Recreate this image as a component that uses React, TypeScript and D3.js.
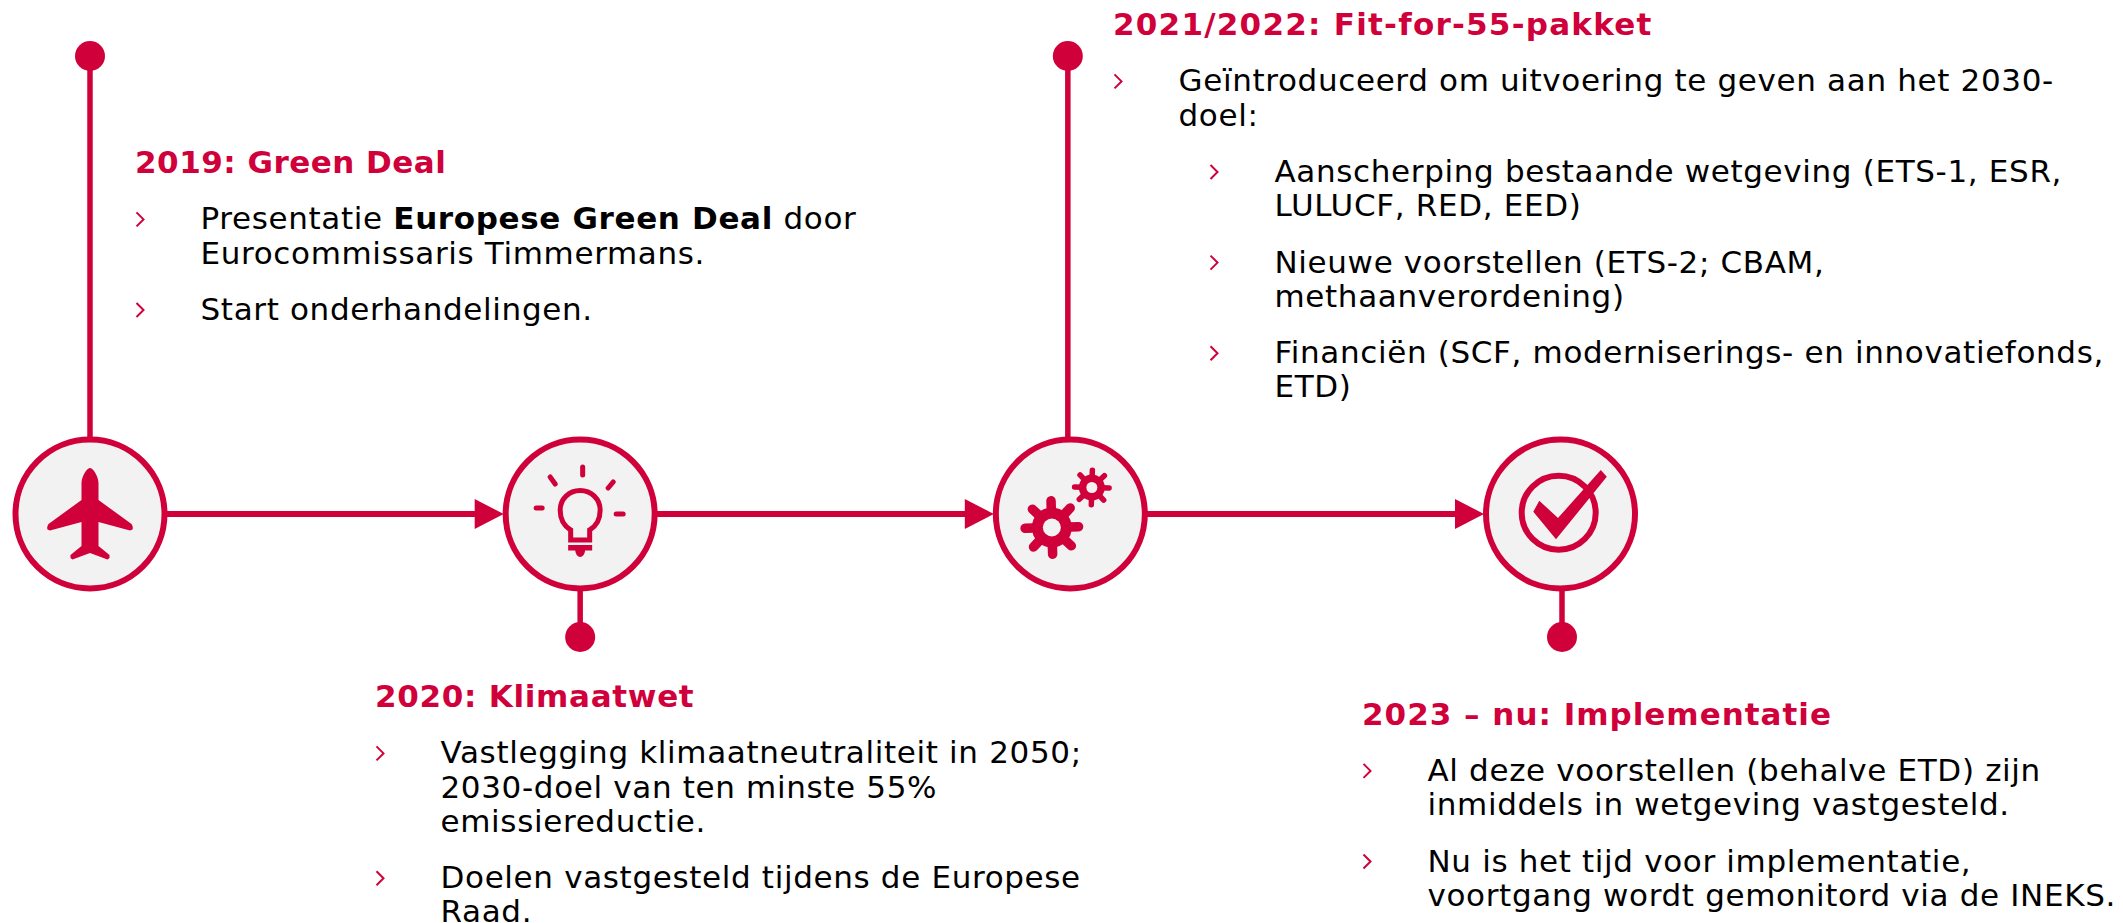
import { useEffect, useRef } from "react";
import * as d3 from "d3";

const stages = ["2019", "2020", "2021/2022", "2023"];
const stemSides = ["top", "bottom", "top", "bottom"];
const headings = [
  "2019: Green Deal",
  "2020: Klimaatwet",
  "2021/2022: Fit-for-55-pakket",
  "2023 – nu: Implementatie",
];
// each bullet: [level, ...lines]
const greenDealBullets: (number | string)[][] = [
  [0, "Presentatie **Europese Green Deal** door", "Eurocommissaris Timmermans."],
  [0, "Start onderhandelingen."],
];
const klimaatwetBullets: (number | string)[][] = [
  [0, "Vastlegging klimaatneutraliteit in 2050;", "2030-doel van ten minste 55%", "emissiereductie."],
  [0, "Doelen vastgesteld tijdens de Europese", "Raad."],
];
const fitFor55Bullets: (number | string)[][] = [
  [0, "Geïntroduceerd om uitvoering te geven aan het 2030-", "doel:"],
  [1, "Aanscherping bestaande wetgeving (ETS-1, ESR,", "LULUCF, RED, EED)"],
  [1, "Nieuwe voorstellen (ETS-2; CBAM,", "methaanverordening)"],
  [1, "Financiën (SCF, moderniserings- en innovatiefonds,", "ETD)"],
];
const implementatieBullets: (number | string)[][] = [
  [0, "Al deze voorstellen (behalve ETD) zijn", "inmiddels in wetgeving vastgesteld."],
  [0, "Nu is het tijd voor implementatie,", "voortgang wordt gemonitord via de INEKS."],
];
const bullets = [greenDealBullets, klimaatwetBullets, fitFor55Bullets, implementatieBullets];

const RED = "#d0003a";
const PANEL = "#f2f2f2";
const FONT = "DejaVu Sans, Verdana, sans-serif";

export default function App() {
  const svgRef = useRef<SVGSVGElement>(null);

  useEffect(() => {
    const svg = d3.select(svgRef.current);
    svg.selectAll("*").remove();

    const width = 2123;
    const height = 923;
    const axisY = 514;
    const circleR = 74.5;
    const dotR = 15;
    const topDotY = 56;
    const bottomDotY = 637;
    const stemNudge = [0, 0, -2.5, 1.5];

    svg.attr("viewBox", `0 0 ${width} ${height}`).attr("width", width).attr("height", height);

    const x = d3.scalePoint<string>().domain(stages).range([90, 1560.5]);

    // stems
    svg.selectAll("line.stem")
      .data(stages)
      .enter()
      .append("line")
      .attr("class", "stem")
      .attr("x1", (d, i) => x(d)! + stemNudge[i])
      .attr("x2", (d, i) => x(d)! + stemNudge[i])
      .attr("y1", axisY)
      .attr("y2", (d, i) => (stemSides[i] === "top" ? topDotY : bottomDotY))
      .attr("stroke", RED)
      .attr("stroke-width", 5.5);

    svg.selectAll("circle.dot")
      .data(stages)
      .enter()
      .append("circle")
      .attr("class", "dot")
      .attr("cx", (d, i) => x(d)! + stemNudge[i])
      .attr("cy", (d, i) => (stemSides[i] === "top" ? topDotY : bottomDotY))
      .attr("r", dotR)
      .attr("fill", RED);

    // connectors with arrow heads
    stages.slice(1).forEach((d, i) => {
      const from = x(stages[i])! + circleR;
      const tip = x(d)! - circleR - 2;
      svg.append("line")
        .attr("x1", from)
        .attr("x2", tip - 20)
        .attr("y1", axisY)
        .attr("y2", axisY)
        .attr("stroke", RED)
        .attr("stroke-width", 6);
      svg.append("path")
        .attr("d", `M${tip},${axisY}L${tip - 29},${axisY - 15}V${axisY + 15}Z`)
        .attr("fill", RED);
    });

    svg.selectAll("circle.node")
      .data(stages)
      .enter()
      .append("circle")
      .attr("class", "node")
      .attr("cx", d => x(d)!)
      .attr("cy", axisY)
      .attr("r", circleR)
      .attr("fill", PANEL)
      .attr("stroke", RED)
      .attr("stroke-width", 6);

    // icons
    const icon = (i: number) => svg.append("g").attr("transform", `translate(${x(stages[i])},${axisY})`);

    icon(0).append("path")
      .attr("fill", RED)
      .attr("d", "M0,-46 C4,-46 8.5,-36 8.5,-31 V-14 L41.5,10 Q43.5,13 42.5,15.5 L40,16.5 L8.5,8 V32 L19.5,41 L19.5,44 L17.5,45.5 L0,39 L-17.5,45.5 L-19.5,44 L-19.5,41 L-8.5,32 V8 L-40,16.5 L-42.5,15.5 Q-43.5,13 -41.5,10 L-8.5,-14 V-31 C-8.5,-36 -4,-46 0,-46 Z");

    const bulb = icon(1).attr("fill", "none").attr("stroke", RED);
    bulb.append("path")
      .attr("stroke-width", 5)
      .attr("d", "M-9.5,26 V16 C-16,12 -20,5 -20,-4 C-20,-15 -11,-23.5 0,-23.5 C11,-23.5 20,-15 20,-4 C20,5 16,12 9.5,16 V26 Z");
    bulb.append("path")
      .attr("fill", RED)
      .attr("stroke", "none")
      .attr("d", "M-12,31 H12 V36.5 H5 Q4,43 0,43 Q-4,43 -5,36.5 H-12 Z");
    bulb.append("path")
      .attr("stroke-width", 5)
      .attr("stroke-linecap", "round")
      .attr("d", "M2.5,-47 V-39 M-30,-37 L-25,-30 M33,-32 L28,-26 M-44,-6 H-38 M36,0 H43");

    // gears: round-capped teeth, a solid body, then the hole on top
    const gear = (cx: number, cy: number, body: number, outer: number, hole: number, tooth: number, start: number) => {
      const g = icon(2).attr("transform", `translate(${x(stages[2])! + cx},${axisY + cy})`);
      g.selectAll("line")
        .data(d3.range(8))
        .enter()
        .append("line")
        .attr("x2", i => (outer - tooth / 2) * Math.cos(start + (i * Math.PI) / 4))
        .attr("y2", i => (outer - tooth / 2) * Math.sin(start + (i * Math.PI) / 4))
        .attr("stroke", RED)
        .attr("stroke-width", tooth)
        .attr("stroke-linecap", "round");
      g.append("circle").attr("r", body).attr("fill", RED);
      g.append("circle").attr("r", hole).attr("fill", PANEL);
    };
    gear(-18.5, 13.5, 20, 31.5, 9, 9.5, -0.03);
    gear(21.5, -26.5, 13, 20, 5.5, 5.5, 0.03);

    const check = icon(3);
    check.append("circle")
      .attr("cx", -1.8)
      .attr("cy", -1.3)
      .attr("r", 37)
      .attr("fill", "none")
      .attr("stroke", RED)
      .attr("stroke-width", 6);
    check.append("path")
      .attr("fill", RED)
      .attr("d", "M-27.2,-2.3 L-21.2,-13.3 L-2.5,4 L40.3,-44 L46.3,-37.3 L-4.5,25.3 Z");

    // text blocks
    const blockX = [135, 375, 1113, 1362];
    const blockY = [173, 707, 35, 724.5];
    const fontSize = 31;
    const lineStep = 34.2;
    const paraStep = 56.4;
    const textIndent = 65.5;
    const levelIndent = 96;
    const spacing = 0.65;
    const inlineBoldSpacing = 0.65;
    const headingSpacing = [0.5, 0.7, 1.24, 1.0];

    headings.forEach((h, i) => {
      svg.append("text")
        .attr("x", blockX[i])
        .attr("y", blockY[i])
        .attr("font-family", FONT)
        .attr("font-weight", "bold")
        .attr("font-size", fontSize)
        .attr("letter-spacing", headingSpacing[i])
        .attr("fill", RED)
        .text(h);

      let y = blockY[i];
      bullets[i].forEach(item => {
        const level = item[0] as number;
        const lines = item.slice(1) as string[];
        y += paraStep;
        const bx = blockX[i] + level * levelIndent;
        svg.append("path")
          .attr("d", `M${bx + 1.5},${y - 17}L${bx + 8.5},${y - 10}L${bx + 1.5},${y - 3}`)
          .attr("fill", "none")
          .attr("stroke", RED)
          .attr("stroke-width", 2);
        lines.forEach((line, j) => {
          const t = svg.append("text")
            .attr("x", bx + textIndent)
            .attr("y", y + j * lineStep)
            .attr("font-family", FONT)
            .attr("font-size", fontSize)
            .attr("fill", "#000");
          line.split("**").forEach((part, k) => {
            t.append("tspan")
              .attr("font-weight", k % 2 ? "bold" : "normal")
              .attr("letter-spacing", k % 2 ? inlineBoldSpacing : spacing)
              .text(part);
          });
        });
        y += (lines.length - 1) * lineStep;
      });
    });
  }, []);

  return <svg ref={svgRef} style={{ position: "absolute", left: 0, top: 0 }} />;
}
